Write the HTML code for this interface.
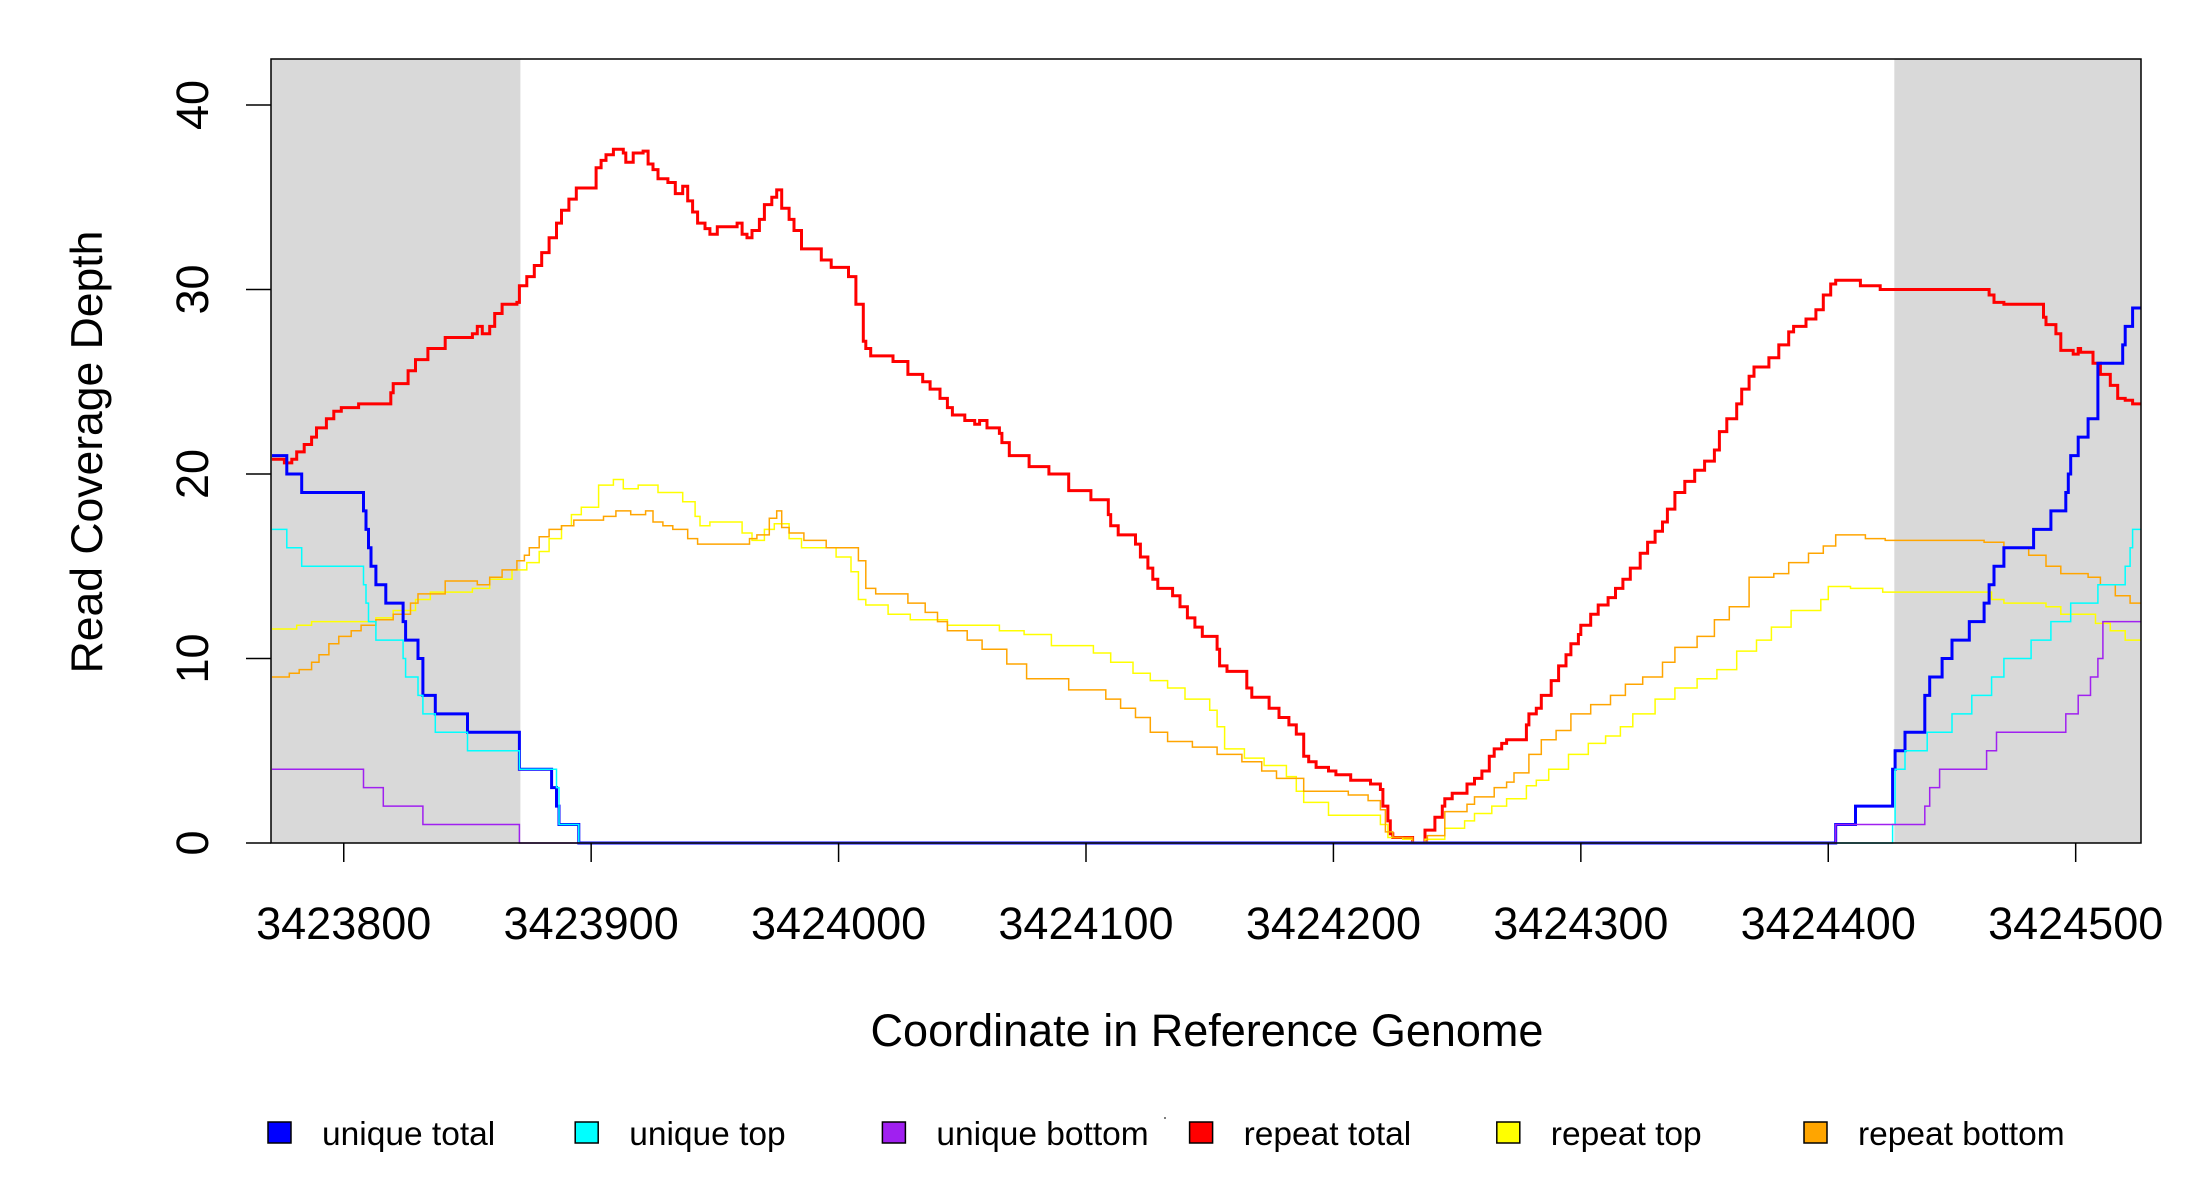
<!DOCTYPE html>
<html><head><meta charset="utf-8"><style>
html,body{margin:0;padding:0;background:#fff;}
svg{display:block;font-family:"Liberation Sans",Arial,sans-serif;}
</style></head><body>
<svg id="chart" width="2200" height="1200" viewBox="0 0 2200 1200" xmlns="http://www.w3.org/2000/svg">
<rect x="0" y="0" width="2200" height="1200" fill="#fff"/>
<g id="shade"></g>
<g id="series"></g>
<g id="axes"></g>
<text x="1207" y="1046" font-size="45" text-anchor="middle" fill="#000">Coordinate in Reference Genome</text>
<text transform="translate(102,452) rotate(-90)" font-size="44.5" text-anchor="middle" fill="#000">Read Coverage Depth</text>
<g id="legend"></g>
<circle cx="1165" cy="1118" r="1" fill="#555"/>
</svg>
<script>
const START = 3423800;
const xTicks = [3423800,3423900,3424000,3424100,3424200,3424300,3424400,3424500];
const yTicks = [0,10,20,30,40];
const shadeRegions = [[-29.4,71.4],[626.7,726.4]];

const redPos = [-29,-24,-21,-19,-16,-13,-11,-7,-4,-1,6,19,20,26,29,34,41,52,54,56,59,61,64,70,71,74,77,80,83,86,88,91,94,102,104,106,109,113,114,117,121,123,125,127,131,134,137,139,141,143,146,148,151,159,161,163,165,168,170,173,175,177,180,182,185,193,197,204,207,210,211,213,222,228,234,237,241,244,246,251,255,257,260,265,266,269,277,285,293,302,309,310,313,320,322,325,327,329,335,338,341,344,347,353,354,357,365,367,374,378,382,385,388,390,393,398,401,407,415,419,420,422,423,424,432,437,441,444,445,448,454,457,460,463,465,468,470,478,479,482,484,488,491,494,496,499,500,504,507,511,514,517,520,524,527,530,533,535,538,542,546,550,554,556,559,563,565,568,570,576,580,584,586,591,595,598,601,603,613,621,665,667,671,687,688,692,694,699,701,702,707,710,714,717,720,723];
const redVal = [20.8,20.6,20.8,21.2,21.6,22.0,22.5,23.0,23.4,23.6,23.8,24.4,24.9,25.6,26.2,26.8,27.4,27.6,28.0,27.6,28.0,28.7,29.2,29.3,30.2,30.7,31.3,32.0,32.8,33.6,34.3,34.9,35.5,36.6,37.0,37.3,37.6,37.4,36.9,37.4,37.5,36.8,36.5,36.0,35.8,35.2,35.6,34.8,34.2,33.6,33.3,33.0,33.4,33.6,33.0,32.8,33.2,33.8,34.6,35.0,35.4,34.4,33.8,33.2,32.2,31.6,31.2,30.7,29.2,27.2,26.8,26.4,26.1,25.4,25.0,24.6,24.1,23.6,23.2,22.9,22.7,22.9,22.5,22.2,21.7,21.0,20.4,20.0,19.1,18.6,17.8,17.2,16.7,16.2,15.5,14.9,14.3,13.8,13.4,12.8,12.2,11.7,11.2,10.5,9.6,9.3,8.4,7.9,7.3,6.8,6.4,5.9,4.7,4.4,4.1,3.9,3.7,3.4,3.2,2.9,2.0,1.2,0.5,0.3,0.0,0.7,1.4,2.0,2.4,2.7,3.2,3.5,3.9,4.7,5.1,5.4,5.6,6.4,7.0,7.3,8.0,8.8,9.6,10.2,10.8,11.3,11.8,12.4,12.9,13.3,13.8,14.3,14.9,15.7,16.3,16.9,17.4,18.1,19.0,19.6,20.2,20.7,21.3,22.3,23.0,23.8,24.6,25.3,25.8,26.3,27.0,27.7,28.0,28.4,28.9,29.7,30.3,30.5,30.2,30.0,29.7,29.3,29.2,28.5,28.1,27.6,26.7,26.5,26.8,26.6,26.0,25.4,24.8,24.1,24.0,23.8];

const yelPos = [-29,-19,-13,13,20,29,35,52,59,68,74,79,83,88,92,96,103,109,113,119,127,137,142,144,148,161,165,170,174,180,185,199,205,208,211,220,229,244,265,275,286,303,310,319,326,333,340,350,353,356,364,372,381,385,388,398,419,422,428,432,437,445,453,457,464,470,478,482,487,495,503,510,516,521,530,538,547,555,563,571,577,585,597,600,609,622,666,671,688,694,708,714,720];
const yelVal = [11.6,11.8,12.0,12.2,12.6,13.2,13.6,13.8,14.3,14.8,15.2,15.8,16.5,17.2,17.8,18.2,19.4,19.7,19.2,19.4,19.0,18.5,17.7,17.2,17.4,16.8,16.4,17.0,17.3,16.5,16.0,15.5,14.7,13.2,12.9,12.4,12.1,11.8,11.5,11.3,10.7,10.3,9.8,9.2,8.8,8.4,7.8,7.2,6.3,5.1,4.6,4.2,3.6,2.8,2.2,1.5,1.0,0.3,0.2,0.0,0.2,0.8,1.2,1.6,2.0,2.4,3.1,3.4,4.0,4.8,5.4,5.8,6.3,7.0,7.8,8.4,8.9,9.4,10.4,11.0,11.7,12.6,13.2,13.9,13.8,13.6,13.2,13.0,12.8,12.4,11.9,11.5,11.0];

const orPos = [-29,-22,-18,-13,-10,-6,-2,3,7,13,20,27,30,41,54,59,64,70,73,75,79,83,88,93,105,110,116,122,125,129,133,139,143,161,164,167,172,175,177,180,186,195,208,211,215,228,235,240,244,252,258,268,276,293,308,314,320,326,333,343,353,363,371,377,388,406,414,419,421,424,432,438,445,454,457,465,470,473,479,484,490,496,504,512,518,525,533,538,547,554,560,568,578,584,592,598,603,615,623,663,671,681,688,694,705,710,716,722];
const orVal = [9.0,9.2,9.4,9.8,10.2,10.8,11.2,11.5,11.8,12.1,12.4,13.0,13.5,14.2,14.0,14.4,14.8,15.3,15.6,16.0,16.6,17.0,17.2,17.5,17.7,18.0,17.8,18.0,17.4,17.2,17.0,16.5,16.2,16.2,16.5,16.7,17.6,18.0,17.1,16.8,16.4,16.0,15.3,13.8,13.5,13.0,12.5,12.0,11.5,11.0,10.5,9.7,8.9,8.3,7.8,7.3,6.8,6.0,5.5,5.2,4.8,4.4,3.9,3.5,2.8,2.6,2.3,1.8,0.6,0.3,0.0,0.4,1.7,2.1,2.5,3.0,3.3,3.8,4.8,5.6,6.1,7.0,7.5,8.0,8.6,9.0,9.8,10.6,11.2,12.1,12.8,14.4,14.6,15.2,15.7,16.1,16.7,16.5,16.4,16.3,16.0,15.6,15.0,14.6,14.4,14.0,13.4,13.0];

const bluePos = [-29,-23,-17,8,9,10,11,13,17,24,25,30,32,37,50,71,84,86,87,95,603,611,626,627,631,639,641,646,650,657,663,665,667,671,683,690,696,697,698,701,705,709,719,720,723];
const blueVal = [21,20,19,18,17,16,15,14,13,12,11,10,8,7,6,4,3,2,1,0,1,2,4,5,6,8,9,10,11,12,13,14,15,16,17,18,19,20,21,22,23,26,27,28,29];

const cyanPos = [-29,-23,-17,8,9,10,13,24,25,30,32,37,50,71,86,87,95,626,627,631,640,650,658,666,671,682,690,698,709,720,722,723];
const cyanVal = [17,16,15,14,13,12,11,10,9,8,7,6,5,4,3,1,0,1,4,5,6,7,8,9,10,11,12,13,14,15,16,17];

const purpPos = [-29,8,16,32,71,603,639,641,645,664,668,696,701,706,709,711];
const purpVal = [4,3,2,1,0,1,2,3,4,5,6,7,8,9,10,12];

const legendLabels = ["unique total","unique top","unique bottom","repeat total","repeat top","repeat bottom"];
const legendColors = ["#0000ff","#00ffff","#a020f0","#ff0000","#ffff00","#ffa500"];

const NS = "http://www.w3.org/2000/svg";
const PL = 271, PR = 2141, PT = 59, PB = 843;
const X0 = -29.4, X1 = 726.4, Y0 = 0, Y1 = (PB - PT) / 18.45;
function xs(off){ return PL + (off - X0) / (X1 - X0) * (PR - PL); }
function ys(v){ return PB - (v - Y0) / (Y1 - Y0) * (PB - PT); }
function mk(tag, attrs, parent){ const e = document.createElementNS(NS, tag); for (const k in attrs) e.setAttribute(k, attrs[k]); parent.appendChild(e); return e; }

const shade = document.getElementById('shade');
shadeRegions.forEach((r, i) => {
  const e = mk('rect', {x: xs(r[0]), y: PT, width: xs(r[1]) - xs(r[0]), height: PB - PT, fill: '#d9d9d9'}, shade);
  
  
});

function stepPath(pos, val){
  let d = '';
  for (let i = 0; i < pos.length; i++){
    const x = xs(pos[i]), y = ys(val[i]);
    if (i === 0) d += 'M' + x.toFixed(1) + ',' + y.toFixed(1);
    else d += 'H' + x.toFixed(1) + 'V' + y.toFixed(1);
  }
  d += 'H' + xs(X1).toFixed(1);
  return d;
}
const series = document.getElementById('series');
const defs = [
  [redPos, redVal, '#ff0000', 3, 'repeat-total-line'],
  [yelPos, yelVal, '#ffff00', 1.5, 'repeat-top-line'],
  [orPos, orVal, '#ffa500', 1.5, 'repeat-bottom-line'],
  [bluePos, blueVal, '#0000ff', 3, 'unique-total-line'],
  [cyanPos, cyanVal, '#00ffff', 1.5, 'unique-top-line'],
  [purpPos, purpVal, '#a020f0', 1.5, 'unique-bottom-line']
];
defs.forEach(s => {
  const p = mk('path', {d: stepPath(s[0], s[1]), fill: 'none', stroke: s[2], 'stroke-width': s[3]}, series);
  
  
});

const axes = document.getElementById('axes');
const box = mk('rect', {x: PL, y: PT, width: PR - PL, height: PB - PT, fill: 'none', stroke: '#000', 'stroke-width': 1.5}, axes);


yTicks.forEach(t => {
  const y = ys(t);
  const l = mk('line', {x1: 246, x2: PL, y1: y, y2: y, stroke: '#000', 'stroke-width': 1.5}, axes);
  
  
  const tx = mk('text', {transform: 'translate(208,' + y + ') rotate(-90)', 'font-size': 45, 'text-anchor': 'middle', fill: '#000'}, axes);
  tx.textContent = String(t);
  
  
});
xTicks.forEach(t => {
  const x = xs(t - START);
  const l = mk('line', {x1: x, x2: x, y1: PB, y2: 862, stroke: '#000', 'stroke-width': 1.5}, axes);
  
  
  const tx = mk('text', {x: x, y: 939, 'font-size': 45, 'text-anchor': 'middle', fill: '#000'}, axes);
  tx.textContent = String(t);
  
  
});

const legend = document.getElementById('legend');
legendLabels.forEach((lab, i) => {
  const bx = 268 + i * 307.2;
  const r = mk('rect', {x: bx, y: 1122, width: 23, height: 21, fill: legendColors[i], stroke: '#000', 'stroke-width': 1.5}, legend);
  
  
  const t = mk('text', {x: bx + 54, y: 1145, 'font-size': 33.5, fill: '#000'}, legend);
  t.textContent = lab;
  
  
});
</script>
</body></html>
